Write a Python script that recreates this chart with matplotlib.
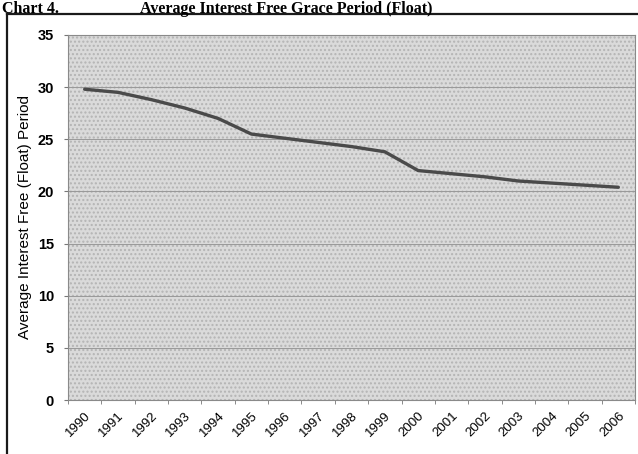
import matplotlib
matplotlib.use("Agg")
import matplotlib.pyplot as plt
from matplotlib.patches import Rectangle
from matplotlib.lines import Line2D

years = [str(y) for y in range(1990, 2007)]
avg_float = [29.8, 29.5, 28.8, 28.0, 27.0, 25.5, 25.1, 24.7, 24.3, 23.8,
             22.0, 21.7, 21.4, 21.0, 20.8, 20.6, 20.4]
y_ticks = [0, 5, 10, 15, 20, 25, 30, 35]

W, H = 638, 454
fig = plt.figure(figsize=(W / 100, H / 100), dpi=100)
fig.patch.set_facecolor("white")

def fx(px):
    return px / W

def fy(py):
    return 1 - py / H

# outer frame (left and top edges)
fig.add_artist(Line2D([fx(7), fx(7)], [fy(14), fy(454)], color="#1a1a1a", lw=1.6,
                      transform=fig.transFigure))
fig.add_artist(Line2D([fx(7), fx(638)], [fy(14), fy(14)], color="#1a1a1a", lw=1.6,
                      transform=fig.transFigure))

# title
fig.text(fx(2), fy(1), "Chart 4.", family="Liberation Serif", weight="bold",
         fontsize=11.5, va="top", ha="left")
fig.text(fx(140), fy(1), "Average Interest Free Grace Period (Float)",
         family="Liberation Serif", weight="bold", fontsize=11.5, va="top", ha="left")

ax = fig.add_axes([fx(68), fy(400), fx(635) - fx(68), (400 - 35) / H])
ax.set_facecolor("#dadada")
ax.add_patch(Rectangle((0, 0), 1, 1, transform=ax.transAxes, facecolor="none",
                       edgecolor="#b4b4b4", hatch="....", lw=0, zorder=0))

x = list(range(len(years)))
ax.plot(x, avg_float, color="#4a4a4a", lw=2.4, solid_joinstyle="round",
        solid_capstyle="round", zorder=3)

ax.set_xlim(-0.5, len(years) - 0.5)
ax.set_ylim(0, 35)
ax.set_yticks(y_ticks)
ax.set_yticklabels([str(v) for v in y_ticks], family="Liberation Sans",
                   weight="bold", fontsize=10.5)
ax.yaxis.grid(True, color="#999999", lw=0.7)
ax.set_axisbelow(True)

ax.set_xticks(x)
ax.set_xticklabels(years, rotation=45, ha="right", rotation_mode="anchor",
                   family="Liberation Sans", fontsize=9.5)
ax.set_xticks([i - 0.5 for i in range(len(years) + 1)], minor=True)
ax.tick_params(axis="x", which="major", length=0, pad=7)
ax.tick_params(axis="x", which="minor", length=3, color="#777777")
ax.tick_params(axis="y", length=3, color="#777777", pad=7)

for s in ax.spines.values():
    s.set_color("#8a8a8a")
    s.set_linewidth(0.8)

ax.set_ylabel("Average Interest Free (Float) Period", family="Liberation Sans",
              fontsize=11, labelpad=4)

fig.savefig("out.png", dpi=100)
